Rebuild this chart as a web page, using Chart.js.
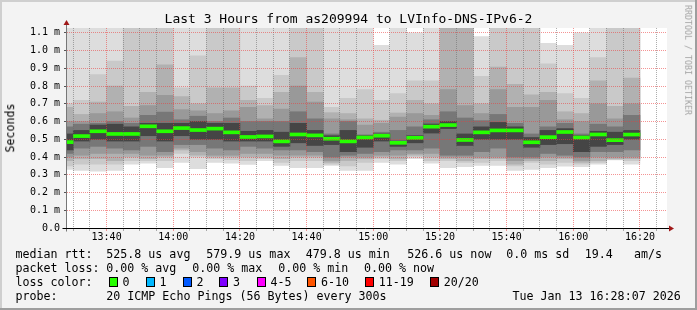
<!DOCTYPE html>
<html>
<head>
<meta charset="utf-8">
<title>Last 3 Hours from as209994 to LVInfo-DNS-IPv6-2</title>
<script src="https://cdn.jsdelivr.net/npm/chart.js@4.4.1/dist/chart.umd.min.js"></script>
<style>
    html, body { margin: 0; padding: 0; background: #f3f3f3; }
    #wrap  { position: relative; width: 697px; height: 310px; overflow: hidden;
             font-family: "DejaVu Sans Mono", monospace; color: #000; }
    #wrap canvas { position: absolute; left: 0; top: 0; }
    .t     { position: absolute; white-space: pre; line-height: 14px; font-size: 11.65px; }
    .box   { position: absolute; width: 7px; height: 8px; border: 1px solid #000; top: 277px; }
    #title { position: absolute; left: 0; top: 11px; width: 697px; text-align: center;
             font-size: 13px; line-height: 15px; white-space: pre; }
    #ylab  { position: absolute; left: 11px; top: 128px; font-size: 11.65px; line-height: 1;
             white-space: pre; transform: translate(-50%, -50%) rotate(-90deg); }
    #mark  { position: absolute; left: 687.5px; top: 60px; font-size: 8.3px; line-height: 1;
             color: #a4a4a4; white-space: pre; transform: translate(-50%, -50%) rotate(90deg); }
</style>
</head>
<body>
<div id="wrap">
    <canvas id="smoke-chart" width="697" height="310"></canvas>
    <div id="title">Last 3 Hours from as209994 to LVInfo-DNS-IPv6-2</div>
    <div id="ylab">Seconds</div>
    <div id="mark">RRDTOOL / TOBI OETIKER</div>

    <div class="t" style="left:15.5px; top:246.7px">median rtt:</div>
    <div class="t" style="left:106.3px; top:246.7px">525.8 us avg</div>
    <div class="t" style="left:206.3px; top:246.7px">579.9 us max</div>
    <div class="t" style="left:305.7px; top:246.7px">479.8 us min</div>
    <div class="t" style="left:407.3px; top:246.7px">526.6 us now</div>
    <div class="t" style="left:506.3px; top:246.7px">0.0 ms sd</div>
    <div class="t" style="left:584.7px; top:246.7px">19.4</div>
    <div class="t" style="left:634px; top:246.7px">am/s</div>

    <div class="t" style="left:15.5px; top:260.7px">packet loss:</div>
    <div class="t" style="left:106.3px; top:260.7px">0.00 % avg</div>
    <div class="t" style="left:192.3px; top:260.7px">0.00 % max</div>
    <div class="t" style="left:278.3px; top:260.7px">0.00 % min</div>
    <div class="t" style="left:364px; top:260.7px">0.00 % now</div>

    <div class="t" style="left:15.5px; top:274.7px">loss color:</div>
    <div id="loss-legend"></div>

    <div class="t" style="left:15.5px; top:288.6px">probe:</div>
    <div class="t" style="left:106.3px; top:288.6px">20 ICMP Echo Pings (56 Bytes) every 300s</div>
    <div class="t" style="left:512.5px; top:288.6px">Tue Jan 13 16:28:07 2026</div>
</div>

<script>
// ───────────────────────── DATA (5 min slots, values in ms) ─────────────────────────
const slots = [
    "13:25","13:30","13:35","13:40","13:45","13:50","13:55",
    "14:00","14:05","14:10","14:15","14:20","14:25","14:30","14:35","14:40","14:45","14:50","14:55",
    "15:00","15:05","15:10","15:15","15:20","15:25","15:30","15:35","15:40","15:45","15:50","15:55",
    "16:00","16:05","16:10","16:15"
];

// smoke bands, outermost (1) to innermost (6); 1.2 = above the top of the graph
const hi1 = [1.2,1.2,1.2,1.2,1.2,1.2,1.2,1.2,1.2,1.2,1.2,1.2,1.2,1.2,1.2,1.2,1.2,1.2,1.2,1.03,1.2,1.10,1.2,1.2,1.2,1.078,1.2,1.2,1.2,1.04,1.03,1.10,1.2,1.2,1.2];
const hi2 = [0.70,0.72,0.864,0.94,1.2,1.2,1.2,0.79,0.97,1.2,1.2,0.80,0.73,0.86,1.2,1.2,0.68,0.73,0.78,0.72,0.757,0.83,0.83,1.2,1.2,0.855,1.2,1.2,1.2,0.925,0.757,0.73,0.96,1.2,1.2];
const hi3 = [0.68,0.64,0.71,0.80,0.685,0.765,0.92,0.74,0.70,0.79,0.79,0.72,0.69,0.765,0.96,0.765,0.65,0.645,0.615,0.607,0.648,0.72,0.70,1.2,1.2,0.70,0.907,0.81,0.75,0.765,0.655,0.645,0.83,0.685,0.845];
const hi4 = [0.60,0.60,0.645,0.655,0.62,0.69,0.747,0.667,0.66,0.645,0.66,0.68,0.615,0.67,0.80,0.71,0.615,0.61,0.58,0.59,0.625,0.645,0.635,0.78,0.69,0.645,0.78,0.68,0.68,0.72,0.61,0.60,0.70,0.615,0.70];
const hi5 = [0.57,0.585,0.59,0.60,0.59,0.635,0.653,0.61,0.63,0.60,0.62,0.60,0.60,0.60,0.655,0.615,0.53,0.60,0.525,0.54,0.55,0.57,0.61,0.655,0.62,0.605,0.64,0.59,0.53,0.57,0.59,0.53,0.585,0.57,0.635];
const hi6 = [0.53,0.55,0.58,0.585,0.57,0.59,0.59,0.59,0.60,0.59,0.59,0.545,0.55,0.54,0.59,0.55,0.52,0.55,0.52,0.53,0.49,0.52,0.586,0.60,0.53,0.57,0.595,0.57,0.51,0.55,0.56,0.52,0.545,0.54,0.55];
const median = [0.484,0.518,0.545,0.53,0.53,0.573,0.545,0.563,0.552,0.56,0.539,0.513,0.516,0.488,0.527,0.522,0.503,0.488,0.51,0.52,0.480,0.508,0.571,0.580,0.496,0.539,0.55,0.55,0.483,0.512,0.541,0.51,0.527,0.495,0.5266];
const lo6 = [0.44,0.49,0.50,0.49,0.49,0.52,0.49,0.52,0.50,0.50,0.49,0.49,0.49,0.46,0.48,0.465,0.47,0.43,0.455,0.49,0.46,0.48,0.535,0.56,0.465,0.50,0.50,0.50,0.455,0.47,0.475,0.43,0.46,0.47,0.50];
const lo5 = [0.42,0.45,0.46,0.45,0.44,0.46,0.43,0.47,0.47,0.45,0.44,0.46,0.45,0.44,0.44,0.43,0.40,0.41,0.42,0.43,0.44,0.44,0.45,0.41,0.41,0.43,0.45,0.40,0.40,0.42,0.41,0.40,0.43,0.43,0.44];
const lo4 = [0.40,0.41,0.42,0.42,0.42,0.41,0.41,0.45,0.43,0.41,0.41,0.42,0.42,0.41,0.41,0.41,0.38,0.40,0.40,0.41,0.41,0.42,0.42,0.40,0.40,0.40,0.40,0.38,0.39,0.40,0.40,0.38,0.40,0.40,0.40];
const lo3 = [0.38,0.39,0.39,0.38,0.40,0.39,0.40,0.44,0.41,0.40,0.40,0.40,0.40,0.39,0.40,0.40,0.37,0.38,0.39,0.40,0.39,0.41,0.40,0.39,0.38,0.39,0.39,0.36,0.38,0.38,0.39,0.37,0.38,0.39,0.39];
const lo2 = [0.35,0.36,0.36,0.36,0.38,0.38,0.38,0.42,0.40,0.39,0.385,0.38,0.39,0.37,0.38,0.38,0.36,0.35,0.37,0.39,0.38,0.40,0.38,0.38,0.37,0.37,0.38,0.35,0.37,0.36,0.37,0.36,0.37,0.385,0.38];
const lo1 = [0.33,0.325,0.32,0.325,0.36,0.366,0.34,0.37,0.334,0.37,0.365,0.358,0.38,0.353,0.34,0.34,0.353,0.325,0.325,0.37,0.36,0.39,0.366,0.34,0.345,0.353,0.353,0.325,0.33,0.34,0.348,0.345,0.36,0.383,0.36];

const xTickLabels = ["13:40","14:00","14:20","14:40","15:00","15:20","15:40","16:00","16:20"];
const yTickValues = [0, 0.1, 0.2, 0.3, 0.4, 0.5, 0.6, 0.7, 0.8, 0.9, 1.0, 1.1];
const yTickLabels = ["0.0","0.1 m","0.2 m","0.3 m","0.4 m","0.5 m","0.6 m","0.7 m","0.8 m","0.9 m","1.0 m","1.1 m"];

const lossLabels = ["0","1","2","3","4-5","6-10","11-19","20/20"];
const lossColors = ["#26ff00","#00b8ff","#0059ff","#7e00ff","#ff00ff","#ff5500","#ff0000","#a10000"];

// ───────────────────────── HELPERS ─────────────────────────
const toMin  = s => { const [h, m] = s.split(":").map(Number); return (h - 13) * 60 + m; }; // minutes since 13:00
const xStart = toMin("13:28") + 7 / 60;   // graph starts 16:28:07 minus 3 h
const xEnd   = xStart + 180;
const FONT   = "DejaVu Sans Mono";

const labelAt = {};
xTickLabels.forEach(l => labelAt[toMin(l)] = l);

// ───────────────────────── LOSS LEGEND (html) ─────────────────────────
const boxX = [108.7, 145.7, 182.7, 219.3, 256.7, 307.3, 365, 430];
const lossEl = document.getElementById("loss-legend");
lossLabels.forEach((l, i) => {
    const b = document.createElement("div");
    b.className = "box";
    b.style.left = boxX[i] + "px";
    b.style.background = lossColors[i];
    lossEl.appendChild(b);
    const t = document.createElement("div");
    t.className = "t";
    t.style.left = (boxX[i] + 13.7) + "px";
    t.style.top  = "274.7px";
    t.textContent = l;
    lossEl.appendChild(t);
});

// ───────────────────────── DATASETS ─────────────────────────
const bandColors = ["#dddddd", "#c9c9c9", "#b1b1b1", "#999999", "#777777", "#454545"];
const bandHi = [hi1, hi2, hi3, hi4, hi5, hi6];
const bandLo = [lo1, lo2, lo3, lo4, lo5, lo6];

const barDefaults = { grouped: false, barPercentage: 1, categoryPercentage: 1, borderWidth: 0 };

const datasets = bandHi.map((hi, k) => ({
    ...barDefaults,
    label:           "smoke " + (k + 1),
    data:            slots.map((s, i) => ({ x: toMin(s) + 2.5, y: [bandLo[k][i], hi[i]] })),
    backgroundColor: bandColors[k],
    order:           10 - k          // inner bands drawn on top
}));

const HALF = 0.0085;                  // median line ~3 px thick
datasets.push({
    ...barDefaults,
    label:           "median rtt",
    data:            slots.map((s, i) => ({ x: toMin(s) + 2.5, y: [median[i] - HALF, median[i] + HALF] })),
    backgroundColor: "#26ff00",
    order:           0
});

// ───────────────────────── FRAME / AXIS PLUGIN ─────────────────────────
const framePlugin = {
    id: "frame",
    beforeDraw(chart) {
        const { ctx, chartArea: a } = chart;
        ctx.save();
        ctx.fillStyle = "#f3f3f3";
        ctx.fillRect(0, 0, 697, 310);
        ctx.fillStyle = "#cfcfcf";
        ctx.fillRect(0, 0, 697, 2);
        ctx.fillRect(0, 0, 2, 310);
        ctx.fillStyle = "#9e9e9e";
        ctx.fillRect(0, 308, 697, 2);
        ctx.fillRect(695, 0, 2, 310);
        ctx.fillStyle = "#ffffff";
        ctx.fillRect(a.left, a.top, a.right - a.left, a.bottom - a.top);
        ctx.restore();
    },
    afterDraw(chart) {
        const { ctx, chartArea: a } = chart;
        const y0 = Math.round(a.bottom) + 0.5;
        const x0 = Math.round(a.left) - 0.5;
        ctx.save();
        ctx.lineWidth = 1;
        ctx.strokeStyle = "#777777";
        ctx.beginPath(); ctx.moveTo(x0, y0 + 3); ctx.lineTo(x0, a.top - 3); ctx.stroke();
        ctx.strokeStyle = "#000000";
        ctx.beginPath(); ctx.moveTo(x0 - 4, y0); ctx.lineTo(a.right + 2, y0); ctx.stroke();
        // arrows
        ctx.fillStyle = "#a01818";
        ctx.beginPath(); ctx.moveTo(a.right + 7, y0); ctx.lineTo(a.right + 2, y0 - 3); ctx.lineTo(a.right + 2, y0 + 3); ctx.closePath(); ctx.fill();
        ctx.beginPath(); ctx.moveTo(x0, a.top - 8); ctx.lineTo(x0 - 3, a.top - 3); ctx.lineTo(x0 + 3, a.top - 3); ctx.closePath(); ctx.fill();
        ctx.restore();
    }
};

// ───────────────────────── CHART ─────────────────────────
const MINOR = "rgba(105,105,105,0.55)";
const MAJOR = "rgba(235,60,60,0.55)";

new Chart(document.getElementById("smoke-chart").getContext("2d"), {
    type: "bar",
    data: { datasets },
    plugins: [framePlugin],
    options: {
        responsive: false,
        animation:  false,
        layout: { padding: { left: 0, right: 30, top: 28, bottom: 0 } },
        plugins: { legend: { display: false }, tooltip: { enabled: false } },
        scales: {
            x: {
                type:   "linear",
                min:    xStart,
                max:    xEnd,
                offset: false,
                afterBuildTicks: axis => {
                    axis.ticks = [];
                    for (let v = 30; v <= 205; v += 5) axis.ticks.push({ value: v });   // minor grid every 5 min
                },
                afterFit: s => { s.height = 82; },
                ticks: {
                    autoSkip:    false,
                    maxRotation: 0,
                    padding:     0,
                    color:       "#000",
                    font:        { family: FONT, size: 10 },
                    callback:    v => labelAt[Math.round(v)] || " "   // empty string would hide the grid line
                },
                grid: {
                    offset:     false,
                    z:          1,                                     // grid over the smoke, like rrdtool
                    color:      c => (c.tick && Math.round(c.tick.value) % 20 === 0) ? MAJOR : MINOR,
                    tickLength: 3
                },
                border: { display: false, dash: [1, 1] }
            },
            y: {
                min: 0,
                max: 1.127,
                afterBuildTicks: axis => { axis.ticks = yTickValues.map(v => ({ value: v })); },
                afterFit: s => { s.width = 67; },
                ticks: {
                    padding:  4,
                    color:    "#000",
                    font:     { family: FONT, size: 10 },
                    callback: (v, i) => yTickLabels[i]
                },
                grid: {
                    z:          1,
                    color:      c => (c.tick && c.tick.value === 0) ? "rgba(0,0,0,0)" : MAJOR,
                    tickColor:  "#555",
                    tickLength: 3
                },
                border: { display: false, dash: [1, 1] }
            }
        }
    }
});
</script>
</body>
</html>
